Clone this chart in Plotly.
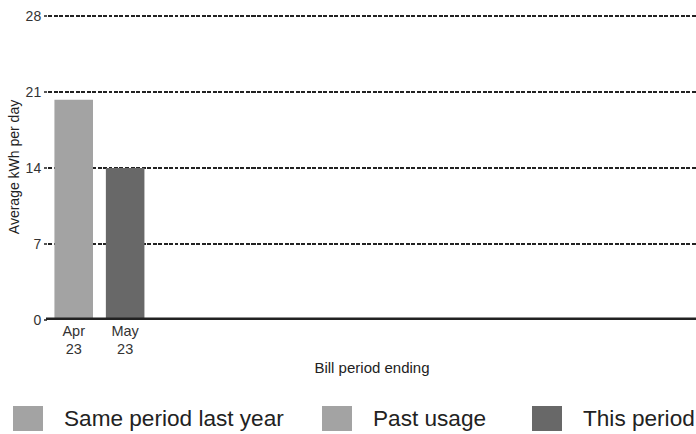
import plotly.graph_objects as go

# Monthly average usage
periods = ["Apr<br>23", "May<br>23"]
usage = [20.3, 14.0]
bar_colors = ["#a3a3a3", "#686868"]

# Legend entries
legend_names = ["Same period last year", "Past usage", "This period"]
legend_colors = ["#a3a3a3", "#a3a3a3", "#686868"]

y_ticks = [0, 7, 14, 21, 28]

FONT = "Liberation Sans, Arial, sans-serif"
W, H = 696, 434
ML, MR, MT, MB = 48, 0, 14, 114
PW, PH = W - ML - MR, H - MT - MB


def px_x(px):
    return (px - ML) / PW


def px_y(py):
    return (H - MB - py) / PH


# swatch left edges (page pixels) for each legend entry
swatch_left = [13, 322, 532]

fig = go.Figure()
fig.add_trace(go.Bar(
    x=list(range(len(usage))),
    y=usage,
    width=0.75,
    marker=dict(color=bar_colors, line=dict(width=0)),
    showlegend=False,
    hoverinfo="skip",
))

# baseline
fig.add_shape(type="line", xref="paper", yref="y", x0=px_x(46), x1=1, y0=0, y1=0,
              line=dict(color="#222222", width=5), layer="above")

# custom legend with large swatches
for name, col, sx in zip(legend_names, legend_colors, swatch_left):
    fig.add_shape(type="rect", xref="paper", yref="paper",
                  x0=px_x(sx), x1=px_x(sx + 30),
                  y0=px_y(406), y1=px_y(431),
                  fillcolor=col, line=dict(width=0))
    fig.add_annotation(text=name, xref="paper", yref="paper",
                       x=px_x(sx + 49), y=px_y(418), xanchor="left", yanchor="middle",
                       showarrow=False,
                       font=dict(family=FONT, size=22.6, color="#222222"))

fig.update_layout(
    width=W, height=H,
    margin=dict(l=ML, r=MR, t=MT, b=MB),
    paper_bgcolor="white", plot_bgcolor="white",
    font=dict(family=FONT, color="#333333"),
    xaxis=dict(
        range=[-0.5, 12.1],
        tickvals=list(range(len(periods))),
        ticktext=periods,
        showgrid=False, zeroline=False, showline=False,
        ticks="", tickfont=dict(size=14.5, color="#333333"),
        title=dict(text="Bill period ending", font=dict(size=15, color="#222222"), standoff=6),
        fixedrange=True,
    ),
    yaxis=dict(
        range=[0, 28.2],
        tickvals=y_ticks,
        showgrid=True, gridcolor="#222222", gridwidth=2, griddash="4px,1.5px",
        zeroline=False, showline=False,
        ticks="outside", ticklen=3, tickcolor="#555555", tickwidth=2,
        tickfont=dict(size=14, color="#333333"),
        title=dict(text="Average kWh per day", font=dict(size=14, color="#222222"), standoff=2),
        fixedrange=True,
    ),
)

fig.write_html("out.html")
